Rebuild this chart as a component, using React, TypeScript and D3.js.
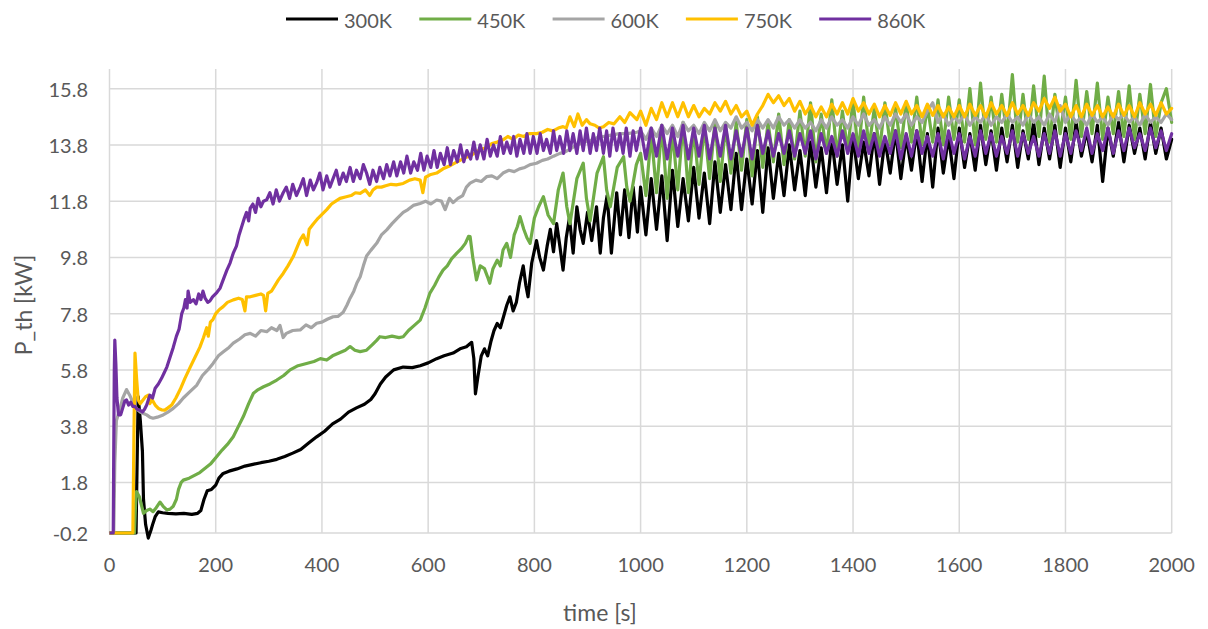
import React from "react";
import * as d3 from "d3";

// ---------------- DATA ----------------
const seriesNames = ["300K", "450K", "600K", "750K", "860K"];
const seriesColors = ["#000000", "#70AD47", "#A5A5A5", "#FFC000", "#7030A0"];

const xTicks = [0, 200, 400, 600, 800, 1000, 1200, 1400, 1600, 1800, 2000];
const yTickValues = [0, 1.8, 3.8, 5.8, 7.8, 9.8, 11.8, 13.8, 15.8];
const yTickLabels = ["-0.2", "1.8", "3.8", "5.8", "7.8", "9.8", "11.8", "13.8", "15.8"];

// late part of each series: values every 10 s from 1000 s to 2000 s
const lateStart = 1000;
const lateStep = 10;

const early300: [number, number][] = [
  [0, 0], [50, 0], [52, 2.5], [54, 4.85], [58, 4.0], [62, 2.9], [64, 1.2], [68, 0.3], [73, -0.18], [78, 0.1],
  [82, 0.35], [86, 0.58], [92, 0.75], [100, 0.72], [110, 0.7], [125, 0.68], [140, 0.7], [155, 0.66], [166, 0.7],
  [172, 0.8], [178, 1.2], [184, 1.5], [192, 1.55], [200, 1.7], [206, 1.95], [214, 2.12], [225, 2.2], [240, 2.28],
  [255, 2.38], [270, 2.44], [285, 2.5], [300, 2.55], [315, 2.62], [330, 2.72], [345, 2.84], [360, 2.97], [375, 3.2],
  [390, 3.42], [405, 3.62], [420, 3.88], [435, 4.05], [450, 4.3], [465, 4.45], [480, 4.58], [492, 4.75], [500, 4.95],
  [510, 5.3], [520, 5.55], [535, 5.8], [553, 5.9], [570, 5.88], [585, 5.95], [600, 6.05], [616, 6.2], [630, 6.3],
  [647, 6.4], [660, 6.55], [672, 6.62], [682, 6.78], [686, 6.2], [689, 4.95], [694, 5.6], [700, 6.3], [706, 6.55],
  [712, 6.3], [718, 6.8], [724, 7.2], [730, 7.45], [736, 7.3], [742, 7.7], [748, 8.1], [754, 8.4], [760, 7.9],
  [766, 8.2], [772, 8.9], [779, 9.5], [784, 8.8], [788, 8.4], [795, 9.6], [804, 10.4], [810, 9.8], [817, 9.35],
  [824, 10.2], [830, 10.8], [836, 10.0], [842, 11.0], [848, 10.2], [854, 9.35], [860, 10.5], [866, 11.2], [873, 9.95],
  [880, 11.6], [886, 10.8], [892, 10.3], [900, 11.4], [908, 10.4], [917, 11.6], [924, 9.95], [930, 11.2], [937, 12.0],
  [945, 9.95], [955, 12.1], [962, 10.6], [970, 12.2], [978, 10.5], [986, 12.3], [994, 10.7],
];
const late300 = [
  12.3, 10.6, 12.6, 10.8, 12.7, 10.4, 12.9, 10.9, 12.6, 11.1,
  13.0, 11.2, 12.8, 11.0, 13.2, 11.4, 13.1, 11.5, 13.5, 11.5,
  13.3, 11.7, 13.6, 11.4, 13.7, 11.9, 13.5, 12.0, 13.8, 12.2,
  13.6, 12.0, 13.9, 12.3, 13.7, 12.1, 14.0, 12.4, 13.8, 11.8,
  14.1, 12.6, 13.9, 12.7, 14.2, 12.4, 14.0, 12.8, 14.3, 12.6,
  14.1, 12.9, 14.3, 12.5, 14.2, 12.3, 14.4, 12.8, 14.1, 12.6,
  14.4, 13.0, 14.2, 12.9, 14.5, 13.1, 14.3, 12.9, 14.4, 13.2,
  14.5, 13.0, 14.3, 13.3, 14.6, 13.1, 14.4, 13.3, 14.5, 13.0,
  14.4, 13.2, 14.6, 13.4, 14.3, 13.2, 14.5, 12.5, 14.4, 13.4,
  14.6, 13.2, 14.5, 13.5, 14.4, 13.3, 14.6, 13.5, 14.4, 13.3, 14.0,
];

const early450: [number, number][] = [
  [0, 0], [47, 0], [49, 1.0], [51, 1.47], [56, 1.3], [60, 1.0], [64, 0.7], [70, 0.8], [76, 0.85], [82, 0.76],
  [88, 0.9], [95, 1.1], [101, 0.95], [108, 0.82], [114, 0.85], [120, 0.95], [126, 1.2], [130, 1.55], [135, 1.8],
  [139, 1.88], [150, 1.95], [160, 2.05], [170, 2.15], [180, 2.3], [190, 2.45], [202, 2.72], [212, 2.95], [222, 3.15],
  [233, 3.42], [243, 3.8], [252, 4.14], [262, 4.6], [271, 4.97], [280, 5.1], [290, 5.2], [302, 5.3], [315, 5.44],
  [328, 5.6], [340, 5.8], [355, 5.95], [371, 6.03], [385, 6.1], [397, 6.2], [409, 6.15], [420, 6.3], [432, 6.4],
  [444, 6.5], [453, 6.63], [462, 6.5], [472, 6.45], [484, 6.5], [495, 6.7], [503, 6.85], [509, 6.98], [520, 6.95],
  [532, 7.0], [545, 6.95], [553, 6.98], [563, 7.2], [575, 7.4], [585, 7.57], [594, 8.0], [603, 8.52], [612, 8.8],
  [620, 9.1], [628, 9.35], [636, 9.5], [644, 9.75], [654, 9.95], [662, 10.1], [670, 10.3], [676, 10.55], [679, 10.54],
  [684, 9.8], [691, 9.0], [698, 9.5], [706, 9.4], [712, 9.1], [716, 8.88], [722, 9.4], [730, 9.7], [736, 9.5],
  [741, 10.06], [748, 10.3], [755, 9.8], [762, 10.6], [768, 10.9], [773, 11.25], [780, 10.8], [786, 10.5], [792, 10.3],
  [800, 11.2], [808, 11.6], [817, 11.96], [826, 11.3], [836, 11.0], [845, 12.2], [854, 12.8], [861, 11.6], [867, 11.0],
  [880, 12.6], [892, 13.15], [898, 11.9], [905, 11.1], [918, 12.8], [930, 13.38], [936, 12.2], [943, 11.6], [956, 13.0],
  [968, 13.38], [974, 12.3], [980, 11.8], [992, 13.1],
];
const late450 = [
  13.5, 12.0, 14.2, 12.1, 14.5, 11.9, 14.3, 12.2, 14.6, 12.1,
  14.4, 12.4, 14.5, 12.6, 14.6, 12.5, 14.5, 12.8, 14.6, 12.9,
  14.7, 12.7, 14.8, 13.0, 14.6, 13.2, 14.9, 13.1, 14.7, 13.3,
  15.0, 13.4, 15.3, 13.2, 14.9, 13.5, 15.4, 13.4, 15.0, 13.6,
  15.4, 13.5, 15.5, 13.7, 15.1, 13.6, 15.3, 13.8, 15.1, 13.7,
  15.3, 13.9, 15.5, 13.8, 15.2, 13.9, 15.4, 13.8, 15.5, 14.0,
  15.4, 13.9, 15.8, 13.8, 16.0, 14.0, 15.5, 13.9, 15.6, 14.1,
  16.3, 13.9, 15.6, 14.0, 15.9, 14.1, 16.25, 13.9, 15.6, 14.2,
  15.5, 14.0, 16.1, 14.1, 15.7, 14.2, 16.0, 14.0, 15.5, 14.2,
  15.7, 14.1, 15.9, 14.0, 15.6, 14.2, 15.95, 14.1, 15.3, 15.8, 14.6,
];

const early600: [number, number][] = [
  [0, 0], [8, 0], [10, 2.5], [13, 4.0], [18, 4.3], [25, 4.8], [32, 5.1], [38, 4.9], [45, 4.6], [52, 4.4], [58, 4.3],
  [64, 4.25], [70, 4.2], [76, 4.12], [82, 4.08], [90, 4.12], [101, 4.2], [110, 4.3], [120, 4.43], [130, 4.6],
  [139, 4.8], [150, 5.0], [164, 5.25], [175, 5.6], [185, 5.8], [195, 6.03], [205, 6.3], [215, 6.45], [225, 6.6],
  [233, 6.75], [245, 6.9], [255, 7.05], [265, 7.1], [275, 7.0], [285, 7.2], [296, 7.16], [305, 7.3], [315, 7.2],
  [321, 7.38], [327, 6.95], [333, 7.1], [345, 7.2], [359, 7.22], [370, 7.4], [380, 7.3], [390, 7.46], [400, 7.5],
  [410, 7.6], [421, 7.69], [430, 7.7], [440, 7.85], [447, 8.1], [453, 8.35], [460, 8.6], [466, 8.9], [472, 9.11],
  [478, 9.5], [484, 9.85], [492, 10.05], [503, 10.3], [512, 10.6], [522, 10.78], [532, 11.0], [542, 11.2], [553, 11.4],
  [562, 11.5], [572, 11.65], [585, 11.72], [595, 11.8], [605, 11.7], [616, 11.84], [625, 11.8], [632, 11.5],
  [640, 11.9], [647, 11.75], [656, 11.9], [665, 12.0], [672, 12.3], [679, 12.44], [690, 12.55], [700, 12.5],
  [710, 12.67], [720, 12.7], [730, 12.6], [741, 12.8], [752, 12.9], [762, 12.85], [772, 12.95], [782, 13.0],
  [792, 13.1], [804, 13.15], [815, 13.25], [825, 13.3], [836, 13.4], [848, 13.5], [858, 13.55], [867, 13.65],
  [880, 13.8], [893, 13.9], [905, 13.95], [917, 14.05], [930, 14.1], [945, 14.15], [960, 14.2], [975, 14.2], [993, 14.25],
];
const late600 = [
  14.3, 14.0, 14.4, 14.1, 14.5, 14.2, 14.5, 14.1, 14.6, 14.3,
  14.5, 14.2, 14.6, 14.3, 14.7, 14.3, 14.6, 14.4, 14.8, 14.4,
  14.6, 14.3, 14.7, 14.4, 14.7, 14.4, 14.8, 14.5, 14.7, 14.4,
  14.7, 14.4, 14.6, 14.3, 14.7, 14.4, 14.8, 14.5, 14.7, 14.4,
  14.8, 14.5, 14.9, 14.5, 14.7, 14.4, 14.8, 14.5, 14.9, 14.6,
  14.9, 14.5, 14.8, 14.6, 15.0, 15.3, 14.6, 14.9, 14.5, 14.8,
  14.6, 14.9, 14.5, 14.8, 14.6, 14.9, 14.5, 14.8, 14.6, 14.9,
  14.6, 14.8, 14.5, 14.9, 14.6, 14.8, 14.5, 14.9, 14.6, 15.2,
  14.6, 14.9, 14.6, 14.8, 14.5, 14.9, 14.6, 14.8, 14.5, 14.9,
  14.7, 14.9, 14.6, 14.8, 14.5, 14.9, 14.6, 14.8, 14.6, 14.9, 14.7,
];

const early750: [number, number][] = [
  [0, 0], [44, 0], [46, 3.5], [48, 6.4], [51, 5.5], [54, 4.73], [58, 4.6], [62, 4.7], [68, 4.85], [73, 4.9],
  [76, 4.6], [80, 4.75], [86, 4.55], [92, 4.43], [98, 4.38], [104, 4.37], [110, 4.45], [117, 4.55], [125, 4.8],
  [133, 5.1], [142, 5.5], [152, 5.9], [161, 6.25], [170, 6.6], [177, 6.95], [183, 7.3], [186, 7.0], [190, 7.5],
  [195, 7.6], [200, 7.8], [207, 7.95], [214, 8.05], [222, 8.2], [233, 8.29], [243, 8.35], [250, 8.3], [255, 7.9],
  [258, 8.4], [265, 8.4], [275, 8.45], [285, 8.5], [290, 8.45], [294, 7.9], [298, 8.52], [305, 8.6], [310, 8.75],
  [318, 9.0], [327, 9.23], [336, 9.5], [346, 9.83], [352, 10.1], [359, 10.42], [365, 10.6], [372, 10.25],
  [376, 10.8], [384, 11.0], [393, 11.2], [401, 11.35], [409, 11.5], [418, 11.7], [426, 11.8], [434, 11.9],
  [444, 11.95], [455, 12.0], [463, 12.1], [472, 12.08], [482, 12.2], [490, 12.0], [496, 12.2], [503, 12.3],
  [512, 12.3], [520, 12.35], [530, 12.4], [540, 12.38], [553, 12.43], [565, 12.55], [575, 12.6], [585, 12.55],
  [590, 12.1], [595, 12.65], [605, 12.75], [616, 12.8], [628, 12.95], [640, 13.05], [650, 13.15], [660, 13.25],
  [670, 13.35], [679, 13.4], [690, 13.55], [700, 13.65], [710, 13.7], [720, 13.85], [730, 13.9], [741, 13.98],
  [750, 14.1], [760, 14.0], [770, 14.15], [780, 14.1], [790, 14.2], [804, 14.2], [815, 14.25], [825, 14.35],
  [835, 14.3], [845, 14.4], [854, 14.45], [860, 14.4], [867, 14.8], [875, 14.45], [882, 14.9], [890, 14.5],
  [898, 14.7], [905, 14.55], [914, 14.5], [922, 14.4], [930, 14.45], [940, 14.6], [950, 14.55], [961, 14.8],
  [970, 14.6], [980, 14.95], [993, 14.7],
];
const late750 = [
  15.0, 14.5, 15.1, 14.7, 15.3, 14.8, 15.3, 14.8, 15.3, 14.8,
  15.2, 14.8, 15.1, 14.9, 15.3, 15.0, 15.35, 14.9, 15.2, 14.8,
  15.0, 14.5, 14.9, 15.2, 15.6, 15.3, 15.55, 15.2, 15.45, 15.0,
  15.35, 14.9, 15.2, 14.8, 15.15, 14.8, 15.25, 14.9, 15.3, 14.9,
  15.45, 15.0, 15.3, 14.9, 15.25, 14.8, 15.2, 14.85, 15.3, 14.9,
  15.35, 14.9, 15.2, 14.8, 15.25, 14.85, 15.2, 14.8, 15.15, 14.8,
  15.2, 14.8, 15.25, 14.85, 15.2, 14.8, 15.3, 14.9, 15.2, 14.85,
  15.3, 14.9, 15.2, 14.85, 15.3, 15.0, 15.45, 15.1, 15.5, 15.0,
  15.25, 14.8, 15.2, 14.8, 15.25, 14.85, 15.2, 14.8, 15.15, 14.8,
  15.25, 14.85, 15.2, 14.8, 15.3, 14.9, 15.25, 14.85, 15.3, 14.9, 15.1,
];

const early860: [number, number][] = [
  [0, 0], [7, 0], [8, 3.0], [9, 5.8], [10, 6.86], [12, 6.0], [14, 4.8], [17, 4.2], [21, 4.2], [25, 4.45], [29, 4.7],
  [32, 4.73], [36, 4.55], [40, 4.65], [44, 4.5], [48, 4.5], [52, 4.4], [57, 4.37], [62, 4.3], [66, 4.4], [70, 4.55],
  [76, 4.9], [81, 4.8], [86, 5.15], [92, 5.3], [98, 5.5], [103, 5.7], [108, 5.9], [114, 6.25], [120, 6.6], [126, 7.0],
  [131, 7.25], [136, 7.8], [140, 8.0], [143, 8.3], [146, 8.0], [148, 8.6], [152, 8.2], [158, 8.3], [163, 8.15],
  [168, 8.5], [172, 8.3], [176, 8.6], [180, 8.35], [185, 8.2], [189, 8.25], [194, 8.4], [202, 8.55], [208, 8.7],
  [214, 9.0], [221, 9.35], [227, 9.6], [233, 9.95], [239, 10.2], [244, 10.6], [249, 10.9], [254, 11.2], [258, 11.4],
  [262, 11.1], [265, 11.55], [270, 11.7], [275, 11.4], [280, 11.9], [285, 11.6], [290, 11.8], [296, 11.85],
  [302, 12.1], [308, 11.7], [314, 12.2], [320, 11.8], [327, 12.1], [333, 12.3], [339, 11.9], [345, 12.4],
  [352, 12.0], [359, 12.3], [365, 12.6], [371, 12.0], [378, 12.55], [384, 12.2], [390, 12.45], [396, 12.8],
  [402, 12.2], [409, 12.7], [415, 12.3], [421, 12.6], [427, 12.9], [433, 12.4], [440, 12.8], [446, 12.5],
  [453, 13.0], [459, 12.5], [465, 12.9], [472, 12.6], [478, 13.1], [484, 12.8], [490, 12.4], [496, 12.9],
  [503, 12.5], [509, 13.0], [516, 12.6], [522, 13.1], [528, 12.7], [535, 13.2], [541, 12.7], [548, 13.2],
  [554, 12.8], [560, 13.4], [567, 12.8], [573, 13.2], [580, 12.9], [586, 13.5], [592, 12.9], [598, 13.4],
  [605, 13.0], [611, 13.6], [617, 13.0], [623, 13.5], [630, 13.1], [636, 13.7], [642, 13.1], [648, 13.6],
  [655, 13.2], [661, 13.8], [667, 13.2], [673, 13.6], [680, 13.3], [686, 13.9], [692, 13.3], [698, 13.8],
  [705, 13.3], [711, 14.0], [717, 13.4], [723, 13.8], [730, 13.4], [736, 14.1], [742, 13.5], [748, 13.9],
  [755, 13.5], [761, 14.1], [767, 13.4], [773, 14.0], [780, 13.5], [786, 14.2], [792, 13.5], [798, 14.1],
  [805, 13.5], [811, 14.2], [817, 13.6], [823, 14.0], [830, 13.5], [836, 14.3], [842, 13.6], [848, 14.1],
  [855, 13.5], [861, 14.3], [867, 13.6], [873, 14.2], [880, 13.5], [886, 14.3], [892, 13.6], [898, 14.4],
  [905, 13.5], [911, 14.2], [917, 13.6], [923, 14.4], [930, 13.5], [936, 14.3], [942, 13.4], [948, 14.4],
  [955, 13.6], [961, 14.2], [967, 13.5], [973, 14.4], [980, 13.4], [986, 14.3], [992, 13.6],
];
const late860 = [
  14.4, 13.3, 14.4, 13.4, 14.5, 13.3, 14.4, 13.4, 14.5, 13.3,
  14.4, 13.4, 14.5, 13.3, 14.4, 13.4, 14.5, 13.3, 14.3, 13.4,
  14.4, 13.3, 14.5, 13.5, 14.3, 13.4, 14.2, 13.5, 14.3, 13.4,
  14.2, 13.5, 14.3, 13.3, 14.2, 13.5, 14.1, 13.4, 14.3, 13.5,
  14.2, 13.4, 14.3, 13.5, 14.2, 13.4, 14.1, 13.5, 14.3, 13.3,
  14.2, 13.4, 14.3, 13.5, 14.1, 13.4, 14.2, 13.3, 14.3, 13.5,
  14.2, 13.3, 14.1, 13.4, 14.3, 13.5, 14.2, 13.4, 14.1, 13.5,
  14.3, 13.4, 14.2, 13.5, 14.1, 13.4, 14.2, 13.5, 14.3, 13.4,
  14.2, 13.5, 14.3, 13.6, 14.4, 13.5, 14.2, 13.6, 14.4, 13.5,
  14.3, 13.6, 14.4, 13.7, 14.2, 13.6, 14.4, 13.7, 14.3, 13.6, 14.2,
];

const earlyParts = [early300, early450, early600, early750, early860];
const lateParts = [late300, late450, late600, late750, late860];

// ---------------- LAYOUT ----------------
const W = 1208;
const H = 629;
const plotLeft = 109.5;
const plotRight = 1171.7;
const plotTop = 69;
const plotBottom = 533;
const textColor = "#595959";
const gridColor = "#D9D9D9";
const font = "Lato, 'Open Sans', sans-serif";
const lineW = 3.2;

export default function App() {
  const x = d3.scaleLinear().domain([0, 2000]).range([plotLeft, plotRight]);
  const y = d3.scaleLinear().domain([0, 16.5]).range([plotBottom, plotTop]);

  const series = earlyParts.map((early, i) => {
    const late: [number, number][] = lateParts[i].map((v, j) => [lateStart + j * lateStep, v]);
    return early.concat(late);
  });

  const line = d3
    .line<[number, number]>()
    .x((d) => x(d[0]))
    .y((d) => y(d[1]));

  const legendStart = 286;
  const legendGap = 133.3;

  return (
    <svg
      width={W}
      height={H}
      style={{ position: "absolute", left: 0, top: 0, background: "#fff" }}
      fontFamily={font}
    >
      <defs>
        <clipPath id="plotClip">
          <rect x={plotLeft} y={plotTop - 2} width={plotRight - plotLeft + 2} height={plotBottom - plotTop + 12} />
        </clipPath>
      </defs>
      {yTickValues.map((v) => (
        <line key={"hg" + v} x1={plotLeft} x2={plotRight} y1={y(v)} y2={y(v)} stroke={gridColor} strokeWidth={1.5} />
      ))}
      {xTicks.map((t) => (
        <line key={"vg" + t} x1={x(t)} x2={x(t)} y1={plotTop} y2={plotBottom} stroke={gridColor} strokeWidth={1.5} />
      ))}
      {yTickValues.map((v, i) => (
        <text
          key={"yl" + v}
          x={88}
          y={y(v)}
          textAnchor="end"
          dominantBaseline="central"
          fontSize={20}
          fill={textColor}
        >
          {yTickLabels[i]}
        </text>
      ))}
      {xTicks.map((t) => (
        <text key={"xl" + t} x={x(t)} y={564} textAnchor="middle" dominantBaseline="central" fontSize={20} fill={textColor}>
          {t}
        </text>
      ))}
      <text
        x={0}
        y={0}
        transform="translate(23,305) rotate(-90)"
        textAnchor="middle"
        dominantBaseline="central"
        fontSize={23}
        fill={textColor}
      >
        P_th [kW]
      </text>
      <text x={600} y={612} textAnchor="middle" dominantBaseline="central" fontSize={23} fill={textColor}>
        time [s]
      </text>
      <g clipPath="url(#plotClip)">
        {series.map((s, i) => (
          <path
            key={seriesNames[i]}
            d={line(s) || ""}
            fill="none"
            stroke={seriesColors[i]}
            strokeWidth={lineW}
            strokeLinejoin="round"
            strokeLinecap="round"
          />
        ))}
      </g>
      {seriesNames.map((n, i) => {
        const lx = legendStart + i * legendGap;
        return (
          <g key={"lg" + n}>
            <line x1={lx} x2={lx + 52} y1={19} y2={19} stroke={seriesColors[i]} strokeWidth={lineW} />
            <text x={lx + 58} y={20} dominantBaseline="central" fontSize={20} fill={textColor}>
              {n}
            </text>
          </g>
        );
      })}
    </svg>
  );
}
